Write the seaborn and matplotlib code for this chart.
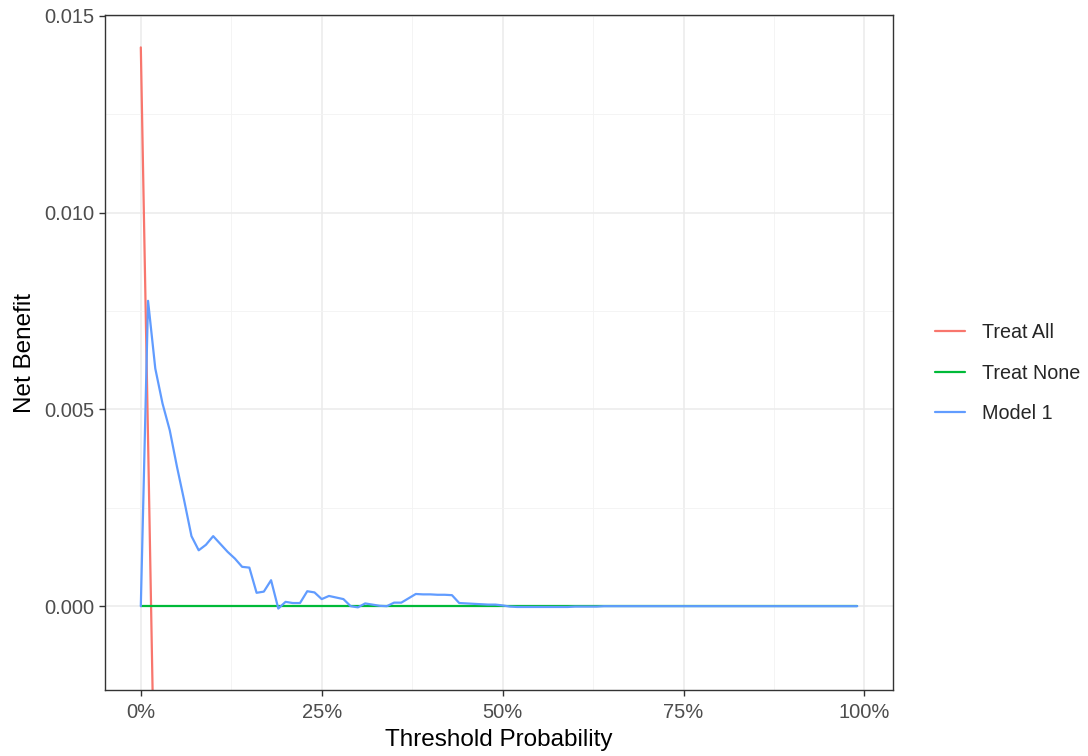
import numpy as np
import pandas as pd
import matplotlib
matplotlib.use("Agg")
import matplotlib.pyplot as plt
import seaborn as sns
from matplotlib.ticker import FixedLocator, FuncFormatter

thresholds = [i / 100 for i in range(100)]

treat_all_thr = [0.00, 0.01, 0.02, 0.03, 0.04, 0.05]
treat_all_nb = [0.0142, 0.00424, -0.00592, -0.0163, -0.0269, -0.0377]

treat_none_nb = [0.0] * 100

model1_nb = [
    0.0, 0.00776, 0.00604, 0.00515, 0.00447, 0.00354, 0.00268, 0.00178, 0.00142, 0.00156,
    0.00178, 0.00158, 0.00138, 0.00121, 0.00100, 0.00098, 0.00034, 0.00037, 0.00066, -0.00006,
    0.00011, 0.00008, 0.00008, 0.00038, 0.00035, 0.00018, 0.00026, 0.00022, 0.00018, 0.0,
    -0.00003, 0.00007, 0.00004, 0.00001, 0.0, 0.00009, 0.00009, 0.00020, 0.00031, 0.00030,
    0.00030, 0.00029, 0.00029, 0.00028, 0.00008, 0.00007, 0.00006, 0.00005, 0.00004, 0.00004,
    0.00002, -0.00001, -0.00002, -0.00002, -0.00002, -0.00002, -0.00002, -0.00002, -0.00002, -0.00002,
    -0.00001, -0.00001, -0.00001, -0.00001, 0.0, 0.0, 0.0, 0.0, 0.0, 0.0,
    0.0, 0.0, 0.0, 0.0, 0.0, 0.0, 0.0, 0.0, 0.0, 0.0,
    0.0, 0.0, 0.0, 0.0, 0.0, 0.0, 0.0, 0.0, 0.0, 0.0,
    0.0, 0.0, 0.0, 0.0, 0.0, 0.0, 0.0, 0.0, 0.0, 0.0,
]

series_names = ["Treat All", "Treat None", "Model 1"]
palette = {"Treat All": "#F8766D", "Treat None": "#00BA38", "Model 1": "#619CFF"}

df = pd.concat([
    pd.DataFrame({"threshold": treat_all_thr, "net_benefit": treat_all_nb, "label": "Treat All"}),
    pd.DataFrame({"threshold": thresholds, "net_benefit": treat_none_nb, "label": "Treat None"}),
    pd.DataFrame({"threshold": thresholds, "net_benefit": model1_nb, "label": "Model 1"}),
], ignore_index=True)

sns.set_style("white")
plt.rcParams["font.family"] = ["Liberation Sans", "DejaVu Sans"]

fig = plt.figure(figsize=(10.88, 7.56), dpi=100)
ax = fig.add_axes([0.0965, 0.0873, 0.7243, 0.8927])

sns.lineplot(data=df, x="threshold", y="net_benefit", hue="label", hue_order=series_names,
             palette=palette, linewidth=1.6, ax=ax, sort=False, estimator=None)

ax.set_xlim(-0.0495, 1.0395)
ax.set_ylim(-0.00213, 0.01502)

ax.xaxis.set_major_locator(FixedLocator([0, 0.25, 0.5, 0.75, 1.0]))
ax.xaxis.set_minor_locator(FixedLocator([0.125, 0.375, 0.625, 0.875]))
ax.yaxis.set_major_locator(FixedLocator([0.0, 0.005, 0.010, 0.015]))
ax.yaxis.set_minor_locator(FixedLocator([0.0025, 0.0075, 0.0125]))
ax.xaxis.set_major_formatter(FuncFormatter(lambda v, p: f"{v*100:.0f}%"))
ax.yaxis.set_major_formatter(FuncFormatter(lambda v, p: f"{v:.3f}"))

ax.grid(True, which="major", color="#EBEBEB", linewidth=1.1)
ax.grid(True, which="minor", color="#F3F3F3", linewidth=0.6)
ax.set_axisbelow(True)

for s in ax.spines.values():
    s.set_color("#333333")
    s.set_linewidth(1.0)

ax.tick_params(axis="both", which="major", length=4.5, width=1.0, color="#333333",
               labelsize=14.5, labelcolor="#4D4D4D", direction="out", pad=3)
ax.tick_params(axis="x", which="major", pad=5)
ax.tick_params(axis="both", which="minor", length=0)
ax.tick_params(left=True, bottom=True)

ax.set_xlabel("Threshold Probability", fontsize=17.5, color="black", labelpad=5)
ax.set_ylabel("Net Benefit", fontsize=17.5, color="black", labelpad=6)

leg = ax.legend(title=None, frameon=False, fontsize=14.2, loc="center left",
                bbox_to_anchor=(935 / 1088, 1 - 373 / 756), bbox_transform=fig.transFigure,
                borderpad=0, borderaxespad=0, handlelength=1.5, labelspacing=1.08,
                handletextpad=0.9)

fig.savefig("out.png", dpi=100)
